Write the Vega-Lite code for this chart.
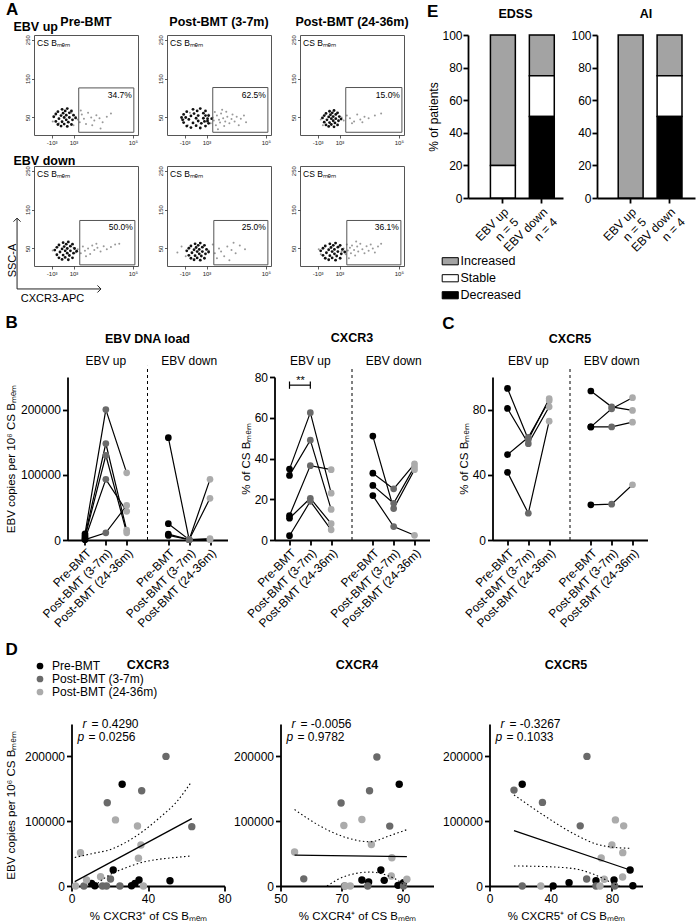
{
"$schema":"https://vega.github.io/schema/vega-lite/v6.json",
"background":"white",
"padding":{"left":5,"top":0,"right":2,"bottom":2},
"config":{
 "font":"Liberation Sans",
 "view":{"stroke":null},
 "text":{"font":"Liberation Sans","color":"#000"},
 "axis":{"domainColor":"#000","domainWidth":1.8,"tickColor":"#000","tickWidth":1.8,"tickSize":5,"labelColor":"#000","labelFontSize":12,"titleFontSize":11.5,"titleFontWeight":"normal","titleColor":"#000","grid":false,"labelPadding":2,"titlePadding":6,"labelOverlap":false},
 "axisX":{"labelFlush":false},
 "title":{"fontSize":12.5,"fontWeight":"bold","color":"#000"},
 "legend":{"labelColor":"#000"}
},
"datasets":{
 "fd":[
  {"p":1,"x":19,"y":52},{"p":1,"x":21,"y":40},{"p":1,"x":21,"y":59},{"p":1,"x":23,"y":32},{"p":1,"x":23,"y":65},{"p":1,"x":24,"y":47},{"p":1,"x":26,"y":55},{"p":1,"x":26,"y":28},{"p":1,"x":27,"y":71},{"p":1,"x":27,"y":39},{"p":1,"x":28,"y":61},{"p":1,"x":29,"y":50},{"p":1,"x":29,"y":33},{"p":1,"x":30,"y":67},{"p":1,"x":31,"y":44},{"p":1,"x":31,"y":56},{"p":1,"x":32,"y":27},{"p":1,"x":32,"y":73},{"p":1,"x":33,"y":38},{"p":1,"x":34,"y":62},{"p":1,"x":34,"y":50},{"p":1,"x":36,"y":32},{"p":1,"x":36,"y":67},{"p":1,"x":37,"y":44},{"p":1,"x":38,"y":56},{"p":1,"x":40,"y":49},
  {"p":2,"x":14,"y":50},{"p":2,"x":16,"y":37},{"p":2,"x":16,"y":58},{"p":2,"x":19,"y":28},{"p":2,"x":19,"y":65},{"p":2,"x":21,"y":45},{"p":2,"x":23,"y":54},{"p":2,"x":23,"y":24},{"p":2,"x":25,"y":71},{"p":2,"x":25,"y":36},{"p":2,"x":26,"y":60},{"p":2,"x":28,"y":48},{"p":2,"x":28,"y":29},{"p":2,"x":29,"y":67},{"p":2,"x":30,"y":41},{"p":2,"x":30,"y":55},{"p":2,"x":32,"y":23},{"p":2,"x":32,"y":73},{"p":2,"x":33,"y":35},{"p":2,"x":35,"y":61},{"p":2,"x":35,"y":48},{"p":2,"x":37,"y":28},{"p":2,"x":37,"y":67},{"p":2,"x":39,"y":41},{"p":2,"x":40,"y":55},{"p":2,"x":43,"y":47},{"p":2,"x":36,"y":40},{"p":2,"x":37,"y":55},{"p":2,"x":39,"y":47},{"p":2,"x":40,"y":35},{"p":2,"x":18,"y":50},{"p":2,"x":15,"y":44},
  {"p":3,"x":21.6,"y":49},{"p":3,"x":23.3,"y":38},{"p":3,"x":23.3,"y":55},{"p":3,"x":25,"y":31},{"p":3,"x":25,"y":60.5},{"p":3,"x":25.9,"y":44},{"p":3,"x":27.6,"y":51.5},{"p":3,"x":27.6,"y":27},{"p":3,"x":28.4,"y":66},{"p":3,"x":28.4,"y":37},{"p":3,"x":29.3,"y":57},{"p":3,"x":30.1,"y":47},{"p":3,"x":30.1,"y":32},{"p":3,"x":31,"y":62},{"p":3,"x":31.9,"y":41.6},{"p":3,"x":31.9,"y":52.4},{"p":3,"x":32.7,"y":26},{"p":3,"x":32.7,"y":68},{"p":3,"x":33.6,"y":36},{"p":3,"x":34.4,"y":58},{"p":3,"x":34.4,"y":47},{"p":3,"x":36.1,"y":31},{"p":3,"x":36.1,"y":62},{"p":3,"x":37,"y":41.6},{"p":3,"x":37.8,"y":52.4},{"p":3,"x":39.5,"y":46},
  {"p":4,"x":20,"y":46},{"p":4,"x":22,"y":34},{"p":4,"x":22,"y":53},{"p":4,"x":24,"y":26},{"p":4,"x":24,"y":59},{"p":4,"x":25,"y":41},{"p":4,"x":27,"y":49},{"p":4,"x":27,"y":22},{"p":4,"x":28,"y":65},{"p":4,"x":28,"y":33},{"p":4,"x":29,"y":55},{"p":4,"x":30,"y":44},{"p":4,"x":30,"y":27},{"p":4,"x":31,"y":61},{"p":4,"x":32,"y":38},{"p":4,"x":32,"y":50},{"p":4,"x":33,"y":21},{"p":4,"x":33,"y":67},{"p":4,"x":34,"y":32},{"p":4,"x":35,"y":56},{"p":4,"x":35,"y":44},{"p":4,"x":37,"y":26},{"p":4,"x":37,"y":61},{"p":4,"x":38,"y":38},{"p":4,"x":39,"y":50},{"p":4,"x":41,"y":43},
  {"p":5,"x":19,"y":44},{"p":5,"x":21,"y":32.5},{"p":5,"x":21,"y":50.6},{"p":5,"x":23,"y":25},{"p":5,"x":23,"y":56.3},{"p":5,"x":24,"y":39},{"p":5,"x":26,"y":46.8},{"p":5,"x":26,"y":21},{"p":5,"x":27,"y":62},{"p":5,"x":27,"y":31.5},{"p":5,"x":28,"y":52.5},{"p":5,"x":29,"y":42},{"p":5,"x":29,"y":25.8},{"p":5,"x":30,"y":58.2},{"p":5,"x":31,"y":36.3},{"p":5,"x":31,"y":47.7},{"p":5,"x":32,"y":20},{"p":5,"x":32,"y":64},{"p":5,"x":33,"y":30.6},{"p":5,"x":34,"y":53.4},{"p":5,"x":34,"y":42},{"p":5,"x":36,"y":25},{"p":5,"x":36,"y":58.2},{"p":5,"x":37,"y":36.3},{"p":5,"x":38,"y":47.7},{"p":5,"x":40,"y":41},
  {"p":6,"x":19.9,"y":44},{"p":6,"x":22.1,"y":32.5},{"p":6,"x":22.1,"y":50.6},{"p":6,"x":24.3,"y":25},{"p":6,"x":24.3,"y":56.3},{"p":6,"x":25.4,"y":39},{"p":6,"x":27.6,"y":46.8},{"p":6,"x":27.6,"y":21},{"p":6,"x":28.7,"y":62},{"p":6,"x":28.7,"y":31.5},{"p":6,"x":29.8,"y":52.5},{"p":6,"x":30.9,"y":42},{"p":6,"x":30.9,"y":25.8},{"p":6,"x":32,"y":58.2},{"p":6,"x":33.1,"y":36.3},{"p":6,"x":33.1,"y":47.7},{"p":6,"x":34.2,"y":20},{"p":6,"x":34.2,"y":64},{"p":6,"x":35.3,"y":30.6},{"p":6,"x":36.4,"y":53.4},{"p":6,"x":36.4,"y":42},{"p":6,"x":38.6,"y":25},{"p":6,"x":38.6,"y":58.2},{"p":6,"x":39.7,"y":36.3},{"p":6,"x":40.8,"y":47.7},{"p":6,"x":43,"y":41}
 ],
 "fs":[
  {"p":1,"x":18,"y":40},{"p":1,"x":21,"y":58},{"p":1,"x":24,"y":35},{"p":1,"x":36,"y":62},{"p":1,"x":38,"y":30},{"p":1,"x":40,"y":52},{"p":1,"x":42,"y":45},{"p":1,"x":44,"y":38},{"p":1,"x":46,"y":58},{"p":1,"x":48,"y":47},{"p":1,"x":50,"y":33},{"p":1,"x":52,"y":62},{"p":1,"x":55,"y":50},{"p":1,"x":58,"y":42},{"p":1,"x":60,"y":56},{"p":1,"x":63,"y":48},{"p":1,"x":66,"y":38},{"p":1,"x":70,"y":52},{"p":1,"x":74,"y":60},{"p":1,"x":64,"y":22},{"p":1,"x":45,"y":68},{"p":1,"x":56,"y":30},
  {"p":2,"x":16,"y":45},{"p":2,"x":20,"y":30},{"p":2,"x":22,"y":62},{"p":2,"x":38,"y":40},{"p":2,"x":40,"y":58},{"p":2,"x":42,"y":35},{"p":2,"x":44,"y":50},{"p":2,"x":45,"y":42},{"p":2,"x":46,"y":64},{"p":2,"x":47,"y":30},{"p":2,"x":48,"y":55},{"p":2,"x":50,"y":44},{"p":2,"x":51,"y":37},{"p":2,"x":52,"y":60},{"p":2,"x":54,"y":48},{"p":2,"x":55,"y":28},{"p":2,"x":56,"y":40},{"p":2,"x":57,"y":65},{"p":2,"x":58,"y":52},{"p":2,"x":60,"y":35},{"p":2,"x":62,"y":46},{"p":2,"x":63,"y":58},{"p":2,"x":65,"y":40},{"p":2,"x":67,"y":52},{"p":2,"x":69,"y":30},{"p":2,"x":71,"y":47},{"p":2,"x":74,"y":55},{"p":2,"x":76,"y":38},{"p":2,"x":49,"y":20},{"p":2,"x":53,"y":70},
  {"p":3,"x":20,"y":45},{"p":3,"x":22,"y":30},{"p":3,"x":40,"y":50},{"p":3,"x":42,"y":42},{"p":3,"x":45,"y":55},{"p":3,"x":48,"y":48},{"p":3,"x":52,"y":40},{"p":3,"x":55,"y":58},{"p":3,"x":58,"y":45},{"p":3,"x":62,"y":52},{"p":3,"x":66,"y":48},{"p":3,"x":72,"y":55},{"p":3,"x":78,"y":60},{"p":3,"x":50,"y":35},{"p":3,"x":60,"y":38},
  {"p":4,"x":18,"y":45},{"p":4,"x":38,"y":52},{"p":4,"x":40,"y":40},{"p":4,"x":42,"y":48},{"p":4,"x":45,"y":38},{"p":4,"x":47,"y":55},{"p":4,"x":49,"y":44},{"p":4,"x":52,"y":50},{"p":4,"x":54,"y":36},{"p":4,"x":56,"y":58},{"p":4,"x":58,"y":46},{"p":4,"x":61,"y":52},{"p":4,"x":64,"y":42},{"p":4,"x":67,"y":56},{"p":4,"x":70,"y":48},{"p":4,"x":74,"y":54},{"p":4,"x":78,"y":60},{"p":4,"x":82,"y":62},{"p":4,"x":50,"y":30},{"p":4,"x":60,"y":62},
  {"p":5,"x":10,"y":40},{"p":5,"x":14,"y":55},{"p":5,"x":18,"y":30},{"p":5,"x":40,"y":45},{"p":5,"x":44,"y":60},{"p":5,"x":46,"y":38},{"p":5,"x":50,"y":50},{"p":5,"x":52,"y":42},{"p":5,"x":55,"y":30},{"p":5,"x":58,"y":55},{"p":5,"x":62,"y":46},{"p":5,"x":66,"y":38},{"p":5,"x":70,"y":58},{"p":5,"x":75,"y":48},{"p":5,"x":48,"y":25},{"p":5,"x":60,"y":20},{"p":5,"x":64,"y":65},
  {"p":6,"x":18,"y":48},{"p":6,"x":20,"y":35},{"p":6,"x":38,"y":55},{"p":6,"x":40,"y":42},{"p":6,"x":42,"y":50},{"p":6,"x":44,"y":35},{"p":6,"x":45,"y":60},{"p":6,"x":46,"y":45},{"p":6,"x":48,"y":52},{"p":6,"x":49,"y":38},{"p":6,"x":50,"y":58},{"p":6,"x":52,"y":46},{"p":6,"x":53,"y":32},{"p":6,"x":55,"y":55},{"p":6,"x":56,"y":42},{"p":6,"x":58,"y":62},{"p":6,"x":60,"y":48},{"p":6,"x":62,"y":38},{"p":6,"x":64,"y":56},{"p":6,"x":66,"y":44},{"p":6,"x":68,"y":60},{"p":6,"x":70,"y":50},{"p":6,"x":72,"y":40},{"p":6,"x":75,"y":55},{"p":6,"x":78,"y":62},{"p":6,"x":54,"y":68},{"p":6,"x":47,"y":25}
 ],
 "gates":[
  {"p":1,"x1":43,"x2":96,"y1":12,"y2":126,"pct":"34.7%"},
  {"p":2,"x1":44,"x2":97,"y1":12,"y2":127,"pct":"62.5%"},
  {"p":3,"x1":44,"x2":98,"y1":12,"y2":127,"pct":"15.0%"},
  {"p":4,"x1":44,"x2":97,"y1":8,"y2":122,"pct":"50.0%"},
  {"p":5,"x1":45,"x2":97,"y1":8,"y2":122,"pct":"25.0%"},
  {"p":6,"x1":45,"x2":97,"y1":8,"y2":122,"pct":"36.1%"}
 ],
 "bars":[
  {"sc":"EDSS","g":"up","st":"Increased","v":80},{"sc":"EDSS","g":"up","st":"Stable","v":20},
  {"sc":"EDSS","g":"down","st":"Increased","v":25},{"sc":"EDSS","g":"down","st":"Stable","v":25},{"sc":"EDSS","g":"down","st":"Decreased","v":50},
  {"sc":"AI","g":"up","st":"Increased","v":100},
  {"sc":"AI","g":"down","st":"Increased","v":25},{"sc":"AI","g":"down","st":"Stable","v":25},{"sc":"AI","g":"down","st":"Decreased","v":50}
 ],
 "traj":[
  {"m":"EBV","id":"u1","tp":"pre","xk":"u0","v":9500},{"m":"EBV","id":"u1","tp":"p1","xk":"u1","v":200000},{"m":"EBV","id":"u1","tp":"p2","xk":"u2","v":103000},
  {"m":"EBV","id":"u2","tp":"pre","xk":"u0","v":6500},{"m":"EBV","id":"u2","tp":"p1","xk":"u1","v":148000},{"m":"EBV","id":"u2","tp":"p2","xk":"u2","v":15000},
  {"m":"EBV","id":"u3","tp":"pre","xk":"u0","v":4000},{"m":"EBV","id":"u3","tp":"p1","xk":"u1","v":130000},{"m":"EBV","id":"u3","tp":"p2","xk":"u2","v":11000},
  {"m":"EBV","id":"u4","tp":"pre","xk":"u0","v":1500},{"m":"EBV","id":"u4","tp":"p1","xk":"u1","v":93000},{"m":"EBV","id":"u4","tp":"p2","xk":"u2","v":44000},
  {"m":"EBV","id":"u5","tp":"pre","xk":"u0","v":500},{"m":"EBV","id":"u5","tp":"p1","xk":"u1","v":11000},{"m":"EBV","id":"u5","tp":"p2","xk":"u2","v":53000},
  {"m":"EBV","id":"d1","tp":"pre","xk":"d0","v":157000},{"m":"EBV","id":"d1","tp":"p1","xk":"d1","v":500},{"m":"EBV","id":"d1","tp":"p2","xk":"d2","v":93000},
  {"m":"EBV","id":"d2","tp":"pre","xk":"d0","v":25000},{"m":"EBV","id":"d2","tp":"p1","xk":"d1","v":500},{"m":"EBV","id":"d2","tp":"p2","xk":"d2","v":64000},
  {"m":"EBV","id":"d3","tp":"pre","xk":"d0","v":9000},{"m":"EBV","id":"d3","tp":"p1","xk":"d1","v":500},{"m":"EBV","id":"d3","tp":"p2","xk":"d2","v":2000},
  {"m":"EBV","id":"d4","tp":"pre","xk":"d0","v":7000},{"m":"EBV","id":"d4","tp":"p1","xk":"d1","v":500},{"m":"EBV","id":"d4","tp":"p2","xk":"d2","v":500},
  {"m":"CXCR3","id":"u1","tp":"pre","xk":"u0","v":34.8},{"m":"CXCR3","id":"u1","tp":"p1","xk":"u1","v":62.5},{"m":"CXCR3","id":"u1","tp":"p2","xk":"u2","v":23},
  {"m":"CXCR3","id":"u2","tp":"pre","xk":"u0","v":31.7},{"m":"CXCR3","id":"u2","tp":"p1","xk":"u1","v":49},{"m":"CXCR3","id":"u2","tp":"p2","xk":"u2","v":15},
  {"m":"CXCR3","id":"u3","tp":"pre","xk":"u0","v":12},{"m":"CXCR3","id":"u3","tp":"p1","xk":"u1","v":36.5},{"m":"CXCR3","id":"u3","tp":"p2","xk":"u2","v":34.5},
  {"m":"CXCR3","id":"u4","tp":"pre","xk":"u0","v":10.7},{"m":"CXCR3","id":"u4","tp":"p1","xk":"u1","v":20.5},{"m":"CXCR3","id":"u4","tp":"p2","xk":"u2","v":8},
  {"m":"CXCR3","id":"u5","tp":"pre","xk":"u0","v":2.1},{"m":"CXCR3","id":"u5","tp":"p1","xk":"u1","v":19},{"m":"CXCR3","id":"u5","tp":"p2","xk":"u2","v":5},
  {"m":"CXCR3","id":"d1","tp":"pre","xk":"d0","v":51},{"m":"CXCR3","id":"d1","tp":"p1","xk":"d1","v":15.4},{"m":"CXCR3","id":"d1","tp":"p2","xk":"d2","v":34.5},
  {"m":"CXCR3","id":"d2","tp":"pre","xk":"d0","v":32.8},{"m":"CXCR3","id":"d2","tp":"p1","xk":"d1","v":25.1},{"m":"CXCR3","id":"d2","tp":"p2","xk":"d2","v":37.4},
  {"m":"CXCR3","id":"d3","tp":"pre","xk":"d0","v":26.8},{"m":"CXCR3","id":"d3","tp":"p1","xk":"d1","v":18},{"m":"CXCR3","id":"d3","tp":"p2","xk":"d2","v":36},
  {"m":"CXCR3","id":"d4","tp":"pre","xk":"d0","v":21.8},{"m":"CXCR3","id":"d4","tp":"p1","xk":"d1","v":6.6},{"m":"CXCR3","id":"d4","tp":"p2","xk":"d2","v":2.3},
  {"m":"CXCR5","id":"u1","tp":"pre","xk":"u0","v":93},{"m":"CXCR5","id":"u1","tp":"p1","xk":"u1","v":61.6},{"m":"CXCR5","id":"u1","tp":"p2","xk":"u2","v":86.7},
  {"m":"CXCR5","id":"u2","tp":"pre","xk":"u0","v":80.7},{"m":"CXCR5","id":"u2","tp":"p1","xk":"u1","v":59.1},{"m":"CXCR5","id":"u2","tp":"p2","xk":"u2","v":81.7},
  {"m":"CXCR5","id":"u3","tp":"pre","xk":"u0","v":52.4},{"m":"CXCR5","id":"u3","tp":"p1","xk":"u1","v":63},{"m":"CXCR5","id":"u3","tp":"p2","xk":"u2","v":85.5},
  {"m":"CXCR5","id":"u4","tp":"pre","xk":"u0","v":41.5},{"m":"CXCR5","id":"u4","tp":"p1","xk":"u1","v":16.4},{"m":"CXCR5","id":"u4","tp":"p2","xk":"u2","v":72.9},
  {"m":"CXCR5","id":"d1","tp":"pre","xk":"d0","v":91.4},{"m":"CXCR5","id":"d1","tp":"p1","xk":"d1","v":81.7},{"m":"CXCR5","id":"d1","tp":"p2","xk":"d2","v":79.5},
  {"m":"CXCR5","id":"d2","tp":"pre","xk":"d0","v":69.4},{"m":"CXCR5","id":"d2","tp":"p1","xk":"d1","v":80.5},{"m":"CXCR5","id":"d2","tp":"p2","xk":"d2","v":87.3},
  {"m":"CXCR5","id":"d3","tp":"pre","xk":"d0","v":69.4},{"m":"CXCR5","id":"d3","tp":"p1","xk":"d1","v":69.4},{"m":"CXCR5","id":"d3","tp":"p2","xk":"d2","v":72.3},
  {"m":"CXCR5","id":"d4","tp":"pre","xk":"d0","v":21.6},{"m":"CXCR5","id":"d4","tp":"p1","xk":"d1","v":22},{"m":"CXCR5","id":"d4","tp":"p2","xk":"d2","v":33.9}
 ],
 "sc":[
  {"mk":"CXCR3","tp":"Pre-BMT","x":26.5,"y":157000},{"mk":"CXCR3","tp":"Pre-BMT","x":21.8,"y":24700},{"mk":"CXCR3","tp":"Pre-BMT","x":51.5,"y":8200},{"mk":"CXCR3","tp":"Pre-BMT","x":35.3,"y":9300},{"mk":"CXCR3","tp":"Pre-BMT","x":33.2,"y":4000},{"mk":"CXCR3","tp":"Pre-BMT","x":31.4,"y":500},{"mk":"CXCR3","tp":"Pre-BMT","x":10.5,"y":4000},{"mk":"CXCR3","tp":"Pre-BMT","x":12.2,"y":500},
  {"mk":"CXCR3","tp":"Post-BMT (3-7m)","x":49.4,"y":200000},{"mk":"CXCR3","tp":"Post-BMT (3-7m)","x":36.7,"y":147000},{"mk":"CXCR3","tp":"Post-BMT (3-7m)","x":18.7,"y":128600},{"mk":"CXCR3","tp":"Post-BMT (3-7m)","x":62.9,"y":91600},{"mk":"CXCR3","tp":"Post-BMT (3-7m)","x":20.4,"y":10800},{"mk":"CXCR3","tp":"Post-BMT (3-7m)","x":6.5,"y":0},{"mk":"CXCR3","tp":"Post-BMT (3-7m)","x":16.2,"y":0},{"mk":"CXCR3","tp":"Post-BMT (3-7m)","x":18.3,"y":0},{"mk":"CXCR3","tp":"Post-BMT (3-7m)","x":25.3,"y":0},
  {"mk":"CXCR3","tp":"Post-BMT (24-36m)","x":23,"y":102000},{"mk":"CXCR3","tp":"Post-BMT (24-36m)","x":4.7,"y":51400},{"mk":"CXCR3","tp":"Post-BMT (24-36m)","x":36.3,"y":63300},{"mk":"CXCR3","tp":"Post-BMT (24-36m)","x":35,"y":42700},{"mk":"CXCR3","tp":"Post-BMT (24-36m)","x":34.5,"y":92600},{"mk":"CXCR3","tp":"Post-BMT (24-36m)","x":15.2,"y":14400},{"mk":"CXCR3","tp":"Post-BMT (24-36m)","x":7.9,"y":9300},{"mk":"CXCR3","tp":"Post-BMT (24-36m)","x":2.1,"y":0},{"mk":"CXCR3","tp":"Post-BMT (24-36m)","x":37.6,"y":0},
  {"mk":"CXCR4","tp":"Pre-BMT","x":88.8,"y":157000},{"mk":"CXCR4","tp":"Pre-BMT","x":82.8,"y":24600},{"mk":"CXCR4","tp":"Pre-BMT","x":83.9,"y":8700},{"mk":"CXCR4","tp":"Pre-BMT","x":76.6,"y":9200},{"mk":"CXCR4","tp":"Pre-BMT","x":78.8,"y":6200},{"mk":"CXCR4","tp":"Pre-BMT","x":88.4,"y":1000},{"mk":"CXCR4","tp":"Pre-BMT","x":90.2,"y":5100},
  {"mk":"CXCR4","tp":"Post-BMT (3-7m)","x":81.5,"y":199000},{"mk":"CXCR4","tp":"Post-BMT (3-7m)","x":79.1,"y":147000},{"mk":"CXCR4","tp":"Post-BMT (3-7m)","x":69.8,"y":128000},{"mk":"CXCR4","tp":"Post-BMT (3-7m)","x":85.7,"y":92400},{"mk":"CXCR4","tp":"Post-BMT (3-7m)","x":57.6,"y":11000},{"mk":"CXCR4","tp":"Post-BMT (3-7m)","x":70.9,"y":0},{"mk":"CXCR4","tp":"Post-BMT (3-7m)","x":78.5,"y":0},{"mk":"CXCR4","tp":"Post-BMT (3-7m)","x":90.2,"y":0},
  {"mk":"CXCR4","tp":"Post-BMT (24-36m)","x":76.6,"y":102700},{"mk":"CXCR4","tp":"Post-BMT (24-36m)","x":70.7,"y":93400},{"mk":"CXCR4","tp":"Post-BMT (24-36m)","x":79.7,"y":64000},{"mk":"CXCR4","tp":"Post-BMT (24-36m)","x":54.6,"y":52400},{"mk":"CXCR4","tp":"Post-BMT (24-36m)","x":86.4,"y":43600},{"mk":"CXCR4","tp":"Post-BMT (24-36m)","x":86.2,"y":15400},{"mk":"CXCR4","tp":"Post-BMT (24-36m)","x":91.3,"y":10300},{"mk":"CXCR4","tp":"Post-BMT (24-36m)","x":71.2,"y":0},{"mk":"CXCR4","tp":"Post-BMT (24-36m)","x":72.8,"y":0},
  {"mk":"CXCR5","tp":"Pre-BMT","x":21.4,"y":157000},{"mk":"CXCR5","tp":"Pre-BMT","x":41.6,"y":0},{"mk":"CXCR5","tp":"Pre-BMT","x":52,"y":5000},{"mk":"CXCR5","tp":"Pre-BMT","x":69.6,"y":8000},{"mk":"CXCR5","tp":"Pre-BMT","x":81.4,"y":9300},{"mk":"CXCR5","tp":"Pre-BMT","x":91.9,"y":24700},{"mk":"CXCR5","tp":"Pre-BMT","x":93.7,"y":500},
  {"mk":"CXCR5","tp":"Post-BMT (3-7m)","x":16,"y":148000},{"mk":"CXCR5","tp":"Post-BMT (3-7m)","x":34.6,"y":129000},{"mk":"CXCR5","tp":"Post-BMT (3-7m)","x":63.7,"y":200000},{"mk":"CXCR5","tp":"Post-BMT (3-7m)","x":59.3,"y":92800},{"mk":"CXCR5","tp":"Post-BMT (3-7m)","x":21.4,"y":0},{"mk":"CXCR5","tp":"Post-BMT (3-7m)","x":63.5,"y":10800},{"mk":"CXCR5","tp":"Post-BMT (3-7m)","x":69.6,"y":0},{"mk":"CXCR5","tp":"Post-BMT (3-7m)","x":81.8,"y":0},
  {"mk":"CXCR5","tp":"Post-BMT (24-36m)","x":82.3,"y":102000},{"mk":"CXCR5","tp":"Post-BMT (24-36m)","x":87.7,"y":92800},{"mk":"CXCR5","tp":"Post-BMT (24-36m)","x":80,"y":63400},{"mk":"CXCR5","tp":"Post-BMT (24-36m)","x":87.1,"y":51500},{"mk":"CXCR5","tp":"Post-BMT (24-36m)","x":73,"y":43300},{"mk":"CXCR5","tp":"Post-BMT (24-36m)","x":75,"y":10300},{"mk":"CXCR5","tp":"Post-BMT (24-36m)","x":87,"y":13900},{"mk":"CXCR5","tp":"Post-BMT (24-36m)","x":33.5,"y":0},{"mk":"CXCR5","tp":"Post-BMT (24-36m)","x":72.2,"y":0}
 ],
 "fit":[
  {"mk":"CXCR3","ln":"fit","x":1.7,"y":6700},{"mk":"CXCR3","ln":"fit","x":62.9,"y":104000},
  {"mk":"CXCR3","ln":"hi","x":1.7,"y":44000},{"mk":"CXCR3","ln":"hi","x":11.4,"y":50400},{"mk":"CXCR3","ln":"hi","x":20,"y":56000},{"mk":"CXCR3","ln":"hi","x":28.8,"y":68000},{"mk":"CXCR3","ln":"hi","x":37.6,"y":85000},{"mk":"CXCR3","ln":"hi","x":46.3,"y":106000},{"mk":"CXCR3","ln":"hi","x":55,"y":130000},{"mk":"CXCR3","ln":"hi","x":62.4,"y":159500},
  {"mk":"CXCR3","ln":"lo","x":12,"y":0},{"mk":"CXCR3","ln":"lo","x":18.3,"y":14400},{"mk":"CXCR3","ln":"lo","x":28.8,"y":28500},{"mk":"CXCR3","ln":"lo","x":37.6,"y":37000},{"mk":"CXCR3","ln":"lo","x":46.3,"y":41500},{"mk":"CXCR3","ln":"lo","x":55,"y":44200},{"mk":"CXCR3","ln":"lo","x":62.4,"y":46300},
  {"mk":"CXCR4","ln":"fit","x":54.6,"y":47700},{"mk":"CXCR4","ln":"fit","x":91.3,"y":45200},
  {"mk":"CXCR4","ln":"hi","x":54.6,"y":118000},{"mk":"CXCR4","ln":"hi","x":63,"y":92400},{"mk":"CXCR4","ln":"hi","x":71.7,"y":74400},{"mk":"CXCR4","ln":"hi","x":79.3,"y":68300},{"mk":"CXCR4","ln":"hi","x":85.9,"y":78000},{"mk":"CXCR4","ln":"hi","x":91.5,"y":87300},
  {"mk":"CXCR4","ln":"lo","x":65.2,"y":0},{"mk":"CXCR4","ln":"lo","x":71.7,"y":16000},{"mk":"CXCR4","ln":"lo","x":79.3,"y":21500},{"mk":"CXCR4","ln":"lo","x":84.8,"y":16400},{"mk":"CXCR4","ln":"lo","x":89.1,"y":6200},{"mk":"CXCR4","ln":"lo","x":90.8,"y":0},
  {"mk":"CXCR5","ln":"fit","x":16,"y":85600},{"mk":"CXCR5","ln":"fit","x":91.9,"y":24700},
  {"mk":"CXCR5","ln":"hi","x":16,"y":140700},{"mk":"CXCR5","ln":"hi","x":36.8,"y":107000},{"mk":"CXCR5","ln":"hi","x":56.5,"y":78800},{"mk":"CXCR5","ln":"hi","x":69.6,"y":65000},{"mk":"CXCR5","ln":"hi","x":80.5,"y":59800},{"mk":"CXCR5","ln":"hi","x":92.6,"y":58200},
  {"mk":"CXCR5","ln":"lo","x":16,"y":30900},{"mk":"CXCR5","ln":"lo","x":36.8,"y":29900},{"mk":"CXCR5","ln":"lo","x":56.5,"y":26300},{"mk":"CXCR5","ln":"lo","x":65.2,"y":20600},{"mk":"CXCR5","ln":"lo","x":74,"y":11900},{"mk":"CXCR5","ln":"lo","x":80.5,"y":4100},{"mk":"CXCR5","ln":"lo","x":85,"y":0}
 ]
},
"columns":1,
"align":"none",
"spacing":10,
"resolve":{"scale":{"color":"independent","fill":"independent"},"legend":{"color":"independent","fill":"independent"}},
"concat":[
 {"spacing":16,"hconcat":[
  {"title":{"text":"A","anchor":"start","frame":"bounds","fontSize":17,"offset":-3,"dx":0},
   "spacing":7,
   "vconcat":[
    {"spacing":29,"bounds":"flush","title":{"text":"EBV up","anchor":"start","frame":"bounds","fontSize":12.5,"offset":-18,"dx":7.5},"hconcat":[
     {"width":104,"height":100,"view":{"stroke":"#555","strokeWidth":1},"title":{"text":"Pre-BMT","offset":6},
      "layer":[
       {"data":{"name":"fs"},"transform":[{"filter":"datum.p==1"}],"mark":{"type":"circle","size":4,"color":"#999","opacity":1},
        "encoding":{"x":{"field":"x","type":"quantitative","scale":{"domain":[0,100],"nice":false,"zero":false},"axis":{"title":null,"values":[17,29,38,68,95],"labelExpr":"datum.value==17?'-10³':datum.value==29?'0':datum.value==38?'10³':datum.value==68?'10⁴':'10⁵'","labelFontSize":6,"labelOverlap":false,"labelSeparation":-20,"labelBound":false,"labelFlush":false,"labelPadding":1,"domain":false,"tickSize":3,"tickWidth":0.8,"tickColor":"#333","labelColor":"#222"}},
                    "y":{"field":"y","type":"quantitative","scale":{"domain":[5,262],"nice":false,"zero":false},"axis":{"title":"SSC-A","titleOpacity":0,"titleFontSize":11,"titlePadding":7,"titleY":94,"titleAlign":"center","values":[50,100,150,200,250],"labelAngle":-90,"labelAlign":"center","labelBaseline":"bottom","labelFontSize":6,"labelOverlap":false,"labelSeparation":-20,"labelBound":false,"labelPadding":1,"domain":false,"tickSize":2.5,"tickWidth":0.8,"tickColor":"#333","labelColor":"#222"}}}},
       {"data":{"name":"fd"},"transform":[{"filter":"datum.p==1"}],"mark":{"type":"circle","size":8,"color":"#111","opacity":1},"encoding":{"x":{"field":"x","type":"quantitative"},"y":{"field":"y","type":"quantitative"}}},
       {"data":{"name":"gates"},"transform":[{"filter":"datum.p==1"}],"mark":{"type":"rect","fillOpacity":0,"stroke":"#555","strokeWidth":1},"encoding":{"x":{"field":"x1","type":"quantitative"},"x2":{"field":"x2"},"y":{"field":"y1","type":"quantitative"},"y2":{"field":"y2"}}},
       {"data":{"name":"gates"},"transform":[{"filter":"datum.p==1"}],"mark":{"type":"text","align":"right","baseline":"top","dx":-2,"dy":3,"fontSize":8.5},"encoding":{"x":{"field":"x2","type":"quantitative"},"y":{"field":"y2","type":"quantitative"},"text":{"field":"pct"}}},
       {"data":{"values":[{}]},"mark":{"type":"text","text":"CS Bₘₑₘ","align":"left","baseline":"top","fontSize":8.5,"dx":3,"dy":4},"encoding":{"x":{"datum":0,"type":"quantitative"},"y":{"datum":262,"type":"quantitative"}}}
      ]},
     {"width":104,"height":100,"view":{"stroke":"#555","strokeWidth":1},"title":{"text":"Post-BMT (3-7m)","offset":6},
      "layer":[
       {"data":{"name":"fs"},"transform":[{"filter":"datum.p==2"}],"mark":{"type":"circle","size":4,"color":"#999","opacity":1},
        "encoding":{"x":{"field":"x","type":"quantitative","scale":{"domain":[0,100],"nice":false,"zero":false},"axis":{"title":null,"values":[17,29,38,68,95],"labelExpr":"datum.value==17?'-10³':datum.value==29?'0':datum.value==38?'10³':datum.value==68?'10⁴':'10⁵'","labelFontSize":6,"labelOverlap":false,"labelSeparation":-20,"labelBound":false,"labelFlush":false,"labelPadding":1,"domain":false,"tickSize":3,"tickWidth":0.8,"tickColor":"#333","labelColor":"#222"}},
                    "y":{"field":"y","type":"quantitative","scale":{"domain":[5,262],"nice":false,"zero":false},"axis":{"title":null,"values":[50,100,150,200,250],"labelAngle":-90,"labelAlign":"center","labelBaseline":"bottom","labelFontSize":6,"labelOverlap":false,"labelSeparation":-20,"labelBound":false,"labelPadding":1,"domain":false,"tickSize":2.5,"tickWidth":0.8,"tickColor":"#333","labelColor":"#222"}}}},
       {"data":{"name":"fd"},"transform":[{"filter":"datum.p==2"}],"mark":{"type":"circle","size":8,"color":"#111","opacity":1},"encoding":{"x":{"field":"x","type":"quantitative"},"y":{"field":"y","type":"quantitative"}}},
       {"data":{"name":"gates"},"transform":[{"filter":"datum.p==2"}],"mark":{"type":"rect","fillOpacity":0,"stroke":"#555","strokeWidth":1},"encoding":{"x":{"field":"x1","type":"quantitative"},"x2":{"field":"x2"},"y":{"field":"y1","type":"quantitative"},"y2":{"field":"y2"}}},
       {"data":{"name":"gates"},"transform":[{"filter":"datum.p==2"}],"mark":{"type":"text","align":"right","baseline":"top","dx":-2,"dy":3,"fontSize":8.5},"encoding":{"x":{"field":"x2","type":"quantitative"},"y":{"field":"y2","type":"quantitative"},"text":{"field":"pct"}}},
       {"data":{"values":[{}]},"mark":{"type":"text","text":"CS Bₘₑₘ","align":"left","baseline":"top","fontSize":8.5,"dx":3,"dy":4},"encoding":{"x":{"datum":0,"type":"quantitative"},"y":{"datum":262,"type":"quantitative"}}}
      ]},
     {"width":104,"height":100,"view":{"stroke":"#555","strokeWidth":1},"title":{"text":"Post-BMT (24-36m)","offset":6},
      "layer":[
       {"data":{"name":"fs"},"transform":[{"filter":"datum.p==3"}],"mark":{"type":"circle","size":4,"color":"#999","opacity":1},
        "encoding":{"x":{"field":"x","type":"quantitative","scale":{"domain":[0,100],"nice":false,"zero":false},"axis":{"title":null,"values":[17,29,38,68,95],"labelExpr":"datum.value==17?'-10³':datum.value==29?'0':datum.value==38?'10³':datum.value==68?'10⁴':'10⁵'","labelFontSize":6,"labelOverlap":false,"labelSeparation":-20,"labelBound":false,"labelFlush":false,"labelPadding":1,"domain":false,"tickSize":3,"tickWidth":0.8,"tickColor":"#333","labelColor":"#222"}},
                    "y":{"field":"y","type":"quantitative","scale":{"domain":[5,262],"nice":false,"zero":false},"axis":{"title":null,"values":[50,100,150,200,250],"labelAngle":-90,"labelAlign":"center","labelBaseline":"bottom","labelFontSize":6,"labelOverlap":false,"labelSeparation":-20,"labelBound":false,"labelPadding":1,"domain":false,"tickSize":2.5,"tickWidth":0.8,"tickColor":"#333","labelColor":"#222"}}}},
       {"data":{"name":"fd"},"transform":[{"filter":"datum.p==3"}],"mark":{"type":"circle","size":8,"color":"#111","opacity":1},"encoding":{"x":{"field":"x","type":"quantitative"},"y":{"field":"y","type":"quantitative"}}},
       {"data":{"name":"gates"},"transform":[{"filter":"datum.p==3"}],"mark":{"type":"rect","fillOpacity":0,"stroke":"#555","strokeWidth":1},"encoding":{"x":{"field":"x1","type":"quantitative"},"x2":{"field":"x2"},"y":{"field":"y1","type":"quantitative"},"y2":{"field":"y2"}}},
       {"data":{"name":"gates"},"transform":[{"filter":"datum.p==3"}],"mark":{"type":"text","align":"right","baseline":"top","dx":-2,"dy":3,"fontSize":8.5},"encoding":{"x":{"field":"x2","type":"quantitative"},"y":{"field":"y2","type":"quantitative"},"text":{"field":"pct"}}},
       {"data":{"values":[{}]},"mark":{"type":"text","text":"CS Bₘₑₘ","align":"left","baseline":"top","fontSize":8.5,"dx":3,"dy":4},"encoding":{"x":{"datum":0,"type":"quantitative"},"y":{"datum":262,"type":"quantitative"}}}
      ]}
    ]},
    {"spacing":29,"bounds":"flush","title":{"text":"EBV down","anchor":"start","frame":"bounds","fontSize":12.5,"offset":-2,"dx":7.5},"hconcat":[
     {"width":104,"height":100,"view":{"stroke":"#555","strokeWidth":1},
      "layer":[
       {"data":{"name":"fs"},"transform":[{"filter":"datum.p==4"}],"mark":{"type":"circle","size":4,"color":"#999","opacity":1},
        "encoding":{"x":{"field":"x","type":"quantitative","scale":{"domain":[0,100],"nice":false,"zero":false},"axis":{"title":"CXCR3-APC","titleFontSize":11,"titlePadding":16,"titleX":18,"titleAlign":"center","values":[17,29,38,68,95],"labelExpr":"datum.value==17?'-10³':datum.value==29?'0':datum.value==38?'10³':datum.value==68?'10⁴':'10⁵'","labelFontSize":6,"labelOverlap":false,"labelSeparation":-20,"labelBound":false,"labelFlush":false,"labelPadding":1,"domain":false,"tickSize":3,"tickWidth":0.8,"tickColor":"#333","labelColor":"#222"}},
                    "y":{"field":"y","type":"quantitative","scale":{"domain":[5,262],"nice":false,"zero":false},"axis":{"title":"SSC-A","titleFontSize":11,"titlePadding":7,"titleY":94,"titleAlign":"center","values":[50,100,150,200,250],"labelAngle":-90,"labelAlign":"center","labelBaseline":"bottom","labelFontSize":6,"labelOverlap":false,"labelSeparation":-20,"labelBound":false,"labelPadding":1,"domain":false,"tickSize":2.5,"tickWidth":0.8,"tickColor":"#333","labelColor":"#222"}}}},
       {"data":{"name":"fd"},"transform":[{"filter":"datum.p==4"}],"mark":{"type":"circle","size":8,"color":"#111","opacity":1},"encoding":{"x":{"field":"x","type":"quantitative"},"y":{"field":"y","type":"quantitative"}}},
       {"data":{"name":"gates"},"transform":[{"filter":"datum.p==4"}],"mark":{"type":"rect","fillOpacity":0,"stroke":"#555","strokeWidth":1},"encoding":{"x":{"field":"x1","type":"quantitative"},"x2":{"field":"x2"},"y":{"field":"y1","type":"quantitative"},"y2":{"field":"y2"}}},
       {"data":{"name":"gates"},"transform":[{"filter":"datum.p==4"}],"mark":{"type":"text","align":"right","baseline":"top","dx":-2,"dy":3,"fontSize":8.5},"encoding":{"x":{"field":"x2","type":"quantitative"},"y":{"field":"y2","type":"quantitative"},"text":{"field":"pct"}}},
       {"data":{"values":[{}]},"mark":{"type":"text","text":"CS Bₘₑₘ","align":"left","baseline":"top","fontSize":8.5,"dx":3,"dy":4},"encoding":{"x":{"datum":0,"type":"quantitative"},"y":{"datum":262,"type":"quantitative"}}},
       {"data":{"values":[{}]},"mark":{"type":"rule","color":"#222","strokeWidth":1},"encoding":{"x":{"datum":-16.3,"type":"quantitative"},"y":{"datum":-54,"type":"quantitative"},"y2":{"datum":128}}},
       {"data":{"values":[{}]},"mark":{"type":"rule","color":"#222","strokeWidth":1},"encoding":{"x":{"datum":-16.3,"type":"quantitative"},"x2":{"datum":64.4},"y":{"datum":-54,"type":"quantitative"}}},
       {"data":{"values":[{}]},"mark":{"type":"point","shape":"M-1,1L0,0L1,1","filled":false,"color":"#222","strokeWidth":1,"size":50,"opacity":1},"encoding":{"x":{"datum":-16.3,"type":"quantitative"},"y":{"datum":128,"type":"quantitative"}}},
       {"data":{"values":[{}]},"mark":{"type":"point","shape":"M-1,-1L0,0L-1,1","filled":false,"color":"#222","strokeWidth":1,"size":50,"opacity":1},"encoding":{"x":{"datum":64.4,"type":"quantitative"},"y":{"datum":-54,"type":"quantitative"}}}
      ]},
     {"width":104,"height":100,"view":{"stroke":"#555","strokeWidth":1},
      "layer":[
       {"data":{"name":"fs"},"transform":[{"filter":"datum.p==5"}],"mark":{"type":"circle","size":4,"color":"#999","opacity":1},
        "encoding":{"x":{"field":"x","type":"quantitative","scale":{"domain":[0,100],"nice":false,"zero":false},"axis":{"title":null,"values":[17,29,38,68,95],"labelExpr":"datum.value==17?'-10³':datum.value==29?'0':datum.value==38?'10³':datum.value==68?'10⁴':'10⁵'","labelFontSize":6,"labelOverlap":false,"labelSeparation":-20,"labelBound":false,"labelFlush":false,"labelPadding":1,"domain":false,"tickSize":3,"tickWidth":0.8,"tickColor":"#333","labelColor":"#222"}},
                    "y":{"field":"y","type":"quantitative","scale":{"domain":[5,262],"nice":false,"zero":false},"axis":{"title":null,"values":[50,100,150,200,250],"labelAngle":-90,"labelAlign":"center","labelBaseline":"bottom","labelFontSize":6,"labelOverlap":false,"labelSeparation":-20,"labelBound":false,"labelPadding":1,"domain":false,"tickSize":2.5,"tickWidth":0.8,"tickColor":"#333","labelColor":"#222"}}}},
       {"data":{"name":"fd"},"transform":[{"filter":"datum.p==5"}],"mark":{"type":"circle","size":8,"color":"#111","opacity":1},"encoding":{"x":{"field":"x","type":"quantitative"},"y":{"field":"y","type":"quantitative"}}},
       {"data":{"name":"gates"},"transform":[{"filter":"datum.p==5"}],"mark":{"type":"rect","fillOpacity":0,"stroke":"#555","strokeWidth":1},"encoding":{"x":{"field":"x1","type":"quantitative"},"x2":{"field":"x2"},"y":{"field":"y1","type":"quantitative"},"y2":{"field":"y2"}}},
       {"data":{"name":"gates"},"transform":[{"filter":"datum.p==5"}],"mark":{"type":"text","align":"right","baseline":"top","dx":-2,"dy":3,"fontSize":8.5},"encoding":{"x":{"field":"x2","type":"quantitative"},"y":{"field":"y2","type":"quantitative"},"text":{"field":"pct"}}},
       {"data":{"values":[{}]},"mark":{"type":"text","text":"CS Bₘₑₘ","align":"left","baseline":"top","fontSize":8.5,"dx":3,"dy":4},"encoding":{"x":{"datum":0,"type":"quantitative"},"y":{"datum":262,"type":"quantitative"}}}
      ]},
     {"width":104,"height":100,"view":{"stroke":"#555","strokeWidth":1},
      "layer":[
       {"data":{"name":"fs"},"transform":[{"filter":"datum.p==6"}],"mark":{"type":"circle","size":4,"color":"#999","opacity":1},
        "encoding":{"x":{"field":"x","type":"quantitative","scale":{"domain":[0,100],"nice":false,"zero":false},"axis":{"title":null,"values":[17,29,38,68,95],"labelExpr":"datum.value==17?'-10³':datum.value==29?'0':datum.value==38?'10³':datum.value==68?'10⁴':'10⁵'","labelFontSize":6,"labelOverlap":false,"labelSeparation":-20,"labelBound":false,"labelFlush":false,"labelPadding":1,"domain":false,"tickSize":3,"tickWidth":0.8,"tickColor":"#333","labelColor":"#222"}},
                    "y":{"field":"y","type":"quantitative","scale":{"domain":[5,262],"nice":false,"zero":false},"axis":{"title":null,"values":[50,100,150,200,250],"labelAngle":-90,"labelAlign":"center","labelBaseline":"bottom","labelFontSize":6,"labelOverlap":false,"labelSeparation":-20,"labelBound":false,"labelPadding":1,"domain":false,"tickSize":2.5,"tickWidth":0.8,"tickColor":"#333","labelColor":"#222"}}}},
       {"data":{"name":"fd"},"transform":[{"filter":"datum.p==6"}],"mark":{"type":"circle","size":8,"color":"#111","opacity":1},"encoding":{"x":{"field":"x","type":"quantitative"},"y":{"field":"y","type":"quantitative"}}},
       {"data":{"name":"gates"},"transform":[{"filter":"datum.p==6"}],"mark":{"type":"rect","fillOpacity":0,"stroke":"#555","strokeWidth":1},"encoding":{"x":{"field":"x1","type":"quantitative"},"x2":{"field":"x2"},"y":{"field":"y1","type":"quantitative"},"y2":{"field":"y2"}}},
       {"data":{"name":"gates"},"transform":[{"filter":"datum.p==6"}],"mark":{"type":"text","align":"right","baseline":"top","dx":-2,"dy":3,"fontSize":8.5},"encoding":{"x":{"field":"x2","type":"quantitative"},"y":{"field":"y2","type":"quantitative"},"text":{"field":"pct"}}},
       {"data":{"values":[{}]},"mark":{"type":"text","text":"CS Bₘₑₘ","align":"left","baseline":"top","fontSize":8.5,"dx":3,"dy":4},"encoding":{"x":{"datum":0,"type":"quantitative"},"y":{"datum":262,"type":"quantitative"}}}
      ]}
    ]}
   ]},
  {"title":{"text":"E","anchor":"start","frame":"bounds","fontSize":17,"offset":-13,"dx":-1},
   "spacing":34,"bounds":"flush",
   "resolve":{"scale":{"fill":"independent"},"legend":{"fill":"independent"}},
   "hconcat":[
    {"width":95,"height":163,"title":{"text":"EDSS","offset":9},
     "data":{"name":"bars"},
     "transform":[{"filter":"datum.sc=='EDSS'"},{"calculate":"indexof(['Decreased','Stable','Increased'],datum.st)","as":"o"}],
     "mark":{"type":"bar","stroke":"#000","strokeWidth":1.5},
     "encoding":{
      "x":{"field":"g","type":"nominal","scale":{"domain":["up","down"],"paddingInner":0.36,"paddingOuter":0.4,"align":0.72},"axis":{"title":null,"labelExpr":"datum.value=='up'?['EBV up','n = 5']:['EBV down','n = 4']","labelAngle":-45,"labelAlign":"right","labelBaseline":"top","labelFontSize":12,"labelPadding":3}},
      "y":{"field":"v","type":"quantitative","stack":"zero","scale":{"domain":[0,100],"nice":false},"axis":{"values":[0,20,40,60,80,100],"title":"% of patients","titleFontSize":12,"labelFontSize":12,"labelPadding":1,"titlePadding":1}},
      "fill":{"field":"st","type":"nominal","scale":{"domain":["Increased","Stable","Decreased"],"range":["#a3a3a3","#ffffff","#000000"]},"legend":{"orient":"none","legendX":-24,"legendY":220,"title":null,"padding":0,"symbolType":"M-1.8,-0.8H1.8V0.8H-1.8Z","symbolSize":80,"symbolStrokeColor":"#000","symbolStrokeWidth":1,"symbolOpacity":1,"labelFontSize":12.5,"labelOffset":4,"rowPadding":4}},
      "order":{"field":"o","type":"quantitative"}
     }},
    {"width":98,"height":163,"title":{"text":"AI","offset":9},
     "data":{"name":"bars"},
     "transform":[{"filter":"datum.sc=='AI'"},{"calculate":"indexof(['Decreased','Stable','Increased'],datum.st)","as":"o"}],
     "mark":{"type":"bar","stroke":"#000","strokeWidth":1.5},
     "encoding":{
      "x":{"field":"g","type":"nominal","scale":{"domain":["up","down"],"paddingInner":0.36,"paddingOuter":0.44,"align":0.62},"axis":{"title":null,"labelExpr":"datum.value=='up'?['EBV up','n = 5']:['EBV down','n = 4']","labelAngle":-45,"labelAlign":"right","labelBaseline":"top","labelFontSize":12,"labelPadding":3}},
      "y":{"field":"v","type":"quantitative","stack":"zero","scale":{"domain":[0,100],"nice":false},"axis":{"values":[0,20,40,60,80,100],"title":null,"labelFontSize":12,"labelPadding":1}},
      "fill":{"field":"st","type":"nominal","scale":{"domain":["Increased","Stable","Decreased"],"range":["#a3a3a3","#ffffff","#000000"]},"legend":null},
      "order":{"field":"o","type":"quantitative"}
     }}
   ]}
 ]},
 {"spacing":-33.5,"hconcat":[
  {"width":1,"height":1,"data":{"values":[{}]},"mark":{"type":"point","opacity":0},"encoding":{}},
  {"spacing":12,"hconcat":[
  {"title":{"text":"B","anchor":"start","frame":"bounds","fontSize":17,"offset":0},
   "spacing":47,"bounds":"flush",
   "hconcat":[
    {"width":160,"height":163,"title":{"text":"EBV DNA load","offset":10},
     "layer":[
      {"data":{"values":[{}]},"mark":{"type":"rule","strokeDash":[3,3],"strokeWidth":1,"color":"#000"},"encoding":{"x":{"datum":"gap","type":"ordinal","scale":{"type":"point","domain":["u0","u1","u2","gap","d0","d1","d2"],"padding":0.84},"axis":{"title":null,"values":["u0","u1","u2","d0","d1","d2"],"labelExpr":"indexof(['u0','d0'],datum.value)>=0?'Pre-BMT':indexof(['u1','d1'],datum.value)>=0?'Post-BMT (3-7m)':'Post-BMT (24-36m)'","labelAngle":-45,"labelAlign":"right","labelBaseline":"top","labelFontSize":12,"labelPadding":2}},"y":{"datum":0,"type":"quantitative","scale":{"domain":[0,250000],"nice":false},"axis":{"values":[0,50000,100000,150000,200000,250000],"format":"d","title":"EBV copies per 10⁶ CS Bₘₑₘ","titlePadding":4}},"y2":{"datum":267000}}},
      {"data":{"name":"traj"},"transform":[{"filter":"datum.m=='EBV'"}],"mark":{"type":"line","color":"#000","strokeWidth":1.2},"encoding":{"x":{"field":"xk","type":"ordinal"},"y":{"field":"v","type":"quantitative"},"detail":{"field":"id"}}},
      {"data":{"name":"traj"},"transform":[{"filter":"datum.m=='EBV'"}],"mark":{"type":"circle","size":45,"opacity":1},"encoding":{"x":{"field":"xk","type":"ordinal"},"y":{"field":"v","type":"quantitative"},"color":{"field":"tp","type":"nominal","scale":{"domain":["pre","p1","p2"],"range":["#000000","#6a6a6a","#ababab"]},"legend":null}}},
      {"data":{"values":[{}]},"mark":{"type":"text","text":"EBV up","fontSize":12,"baseline":"middle"},"encoding":{"x":{"datum":"u1","type":"ordinal"},"y":{"datum":274500,"type":"quantitative"}}},
      {"data":{"values":[{}]},"mark":{"type":"text","text":"EBV down","fontSize":12,"baseline":"middle"},"encoding":{"x":{"datum":"d1","type":"ordinal"},"y":{"datum":274500,"type":"quantitative"}}}
     ]},
    {"width":155,"height":163,"title":{"text":"CXCR3","offset":10},
     "layer":[
      {"data":{"values":[{}]},"mark":{"type":"rule","strokeDash":[3,3],"strokeWidth":1,"color":"#000"},"encoding":{"x":{"datum":"gap","type":"ordinal","scale":{"type":"point","domain":["u0","u1","u2","gap","d0","d1","d2"],"padding":0.72},"axis":{"title":null,"values":["u0","u1","u2","d0","d1","d2"],"labelExpr":"indexof(['u0','d0'],datum.value)>=0?'Pre-BMT':indexof(['u1','d1'],datum.value)>=0?'Post-BMT (3-7m)':'Post-BMT (24-36m)'","labelAngle":-45,"labelAlign":"right","labelBaseline":"top","labelFontSize":12,"labelPadding":2}},"y":{"datum":0,"type":"quantitative","scale":{"domain":[0,80],"nice":false},"axis":{"values":[0,20,40,60,80],"title":"% of CS Bₘₑₘ","titlePadding":3}},"y2":{"datum":85.4}}},
      {"data":{"name":"traj"},"transform":[{"filter":"datum.m=='CXCR3'"}],"mark":{"type":"line","color":"#000","strokeWidth":1.2},"encoding":{"x":{"field":"xk","type":"ordinal"},"y":{"field":"v","type":"quantitative"},"detail":{"field":"id"}}},
      {"data":{"name":"traj"},"transform":[{"filter":"datum.m=='CXCR3'"}],"mark":{"type":"circle","size":45,"opacity":1},"encoding":{"x":{"field":"xk","type":"ordinal"},"y":{"field":"v","type":"quantitative"},"color":{"field":"tp","type":"nominal","scale":{"domain":["pre","p1","p2"],"range":["#000000","#6a6a6a","#ababab"]},"legend":null}}},
      {"data":{"values":[{}]},"mark":{"type":"rule","strokeWidth":1.2,"color":"#000"},"encoding":{"x":{"datum":"u0","type":"ordinal"},"x2":{"datum":"u1"},"y":{"datum":76,"type":"quantitative"}}},
      {"data":{"values":[{}]},"mark":{"type":"rule","strokeWidth":1.2,"color":"#000"},"encoding":{"x":{"datum":"u0","type":"ordinal"},"y":{"datum":74.2,"type":"quantitative"},"y2":{"datum":77.8}}},
      {"data":{"values":[{}]},"mark":{"type":"rule","strokeWidth":1.2,"color":"#000"},"encoding":{"x":{"datum":"u1","type":"ordinal"},"y":{"datum":74.2,"type":"quantitative"},"y2":{"datum":77.8}}},
      {"data":{"values":[{}]},"mark":{"type":"text","text":"**","fontSize":11,"baseline":"bottom","align":"center","dx":11,"dy":1},"encoding":{"x":{"datum":"u0","type":"ordinal"},"y":{"datum":76,"type":"quantitative"}}},
      {"data":{"values":[{}]},"mark":{"type":"text","text":"EBV up","fontSize":12,"baseline":"middle"},"encoding":{"x":{"datum":"u1","type":"ordinal"},"y":{"datum":87.9,"type":"quantitative"}}},
      {"data":{"values":[{}]},"mark":{"type":"text","text":"EBV down","fontSize":12,"baseline":"middle"},"encoding":{"x":{"datum":"d1","type":"ordinal"},"y":{"datum":87.9,"type":"quantitative"}}}
     ]}
   ]},
  {"title":{"text":"C","anchor":"start","frame":"bounds","fontSize":17,"offset":0,"dx":-16},
   "hconcat":[
    {"width":155,"height":163,"title":{"text":"CXCR5","offset":10},
     "layer":[
      {"data":{"values":[{}]},"mark":{"type":"rule","strokeDash":[3,3],"strokeWidth":1,"color":"#000"},"encoding":{"x":{"datum":"gap","type":"ordinal","scale":{"type":"point","domain":["u0","u1","u2","gap","d0","d1","d2"],"padding":0.72},"axis":{"title":null,"values":["u0","u1","u2","d0","d1","d2"],"labelExpr":"indexof(['u0','d0'],datum.value)>=0?'Pre-BMT':indexof(['u1','d1'],datum.value)>=0?'Post-BMT (3-7m)':'Post-BMT (24-36m)'","labelAngle":-45,"labelAlign":"right","labelBaseline":"top","labelFontSize":12,"labelPadding":2}},"y":{"datum":0,"type":"quantitative","scale":{"domain":[0,100],"nice":false},"axis":{"values":[0,20,40,60,80,100],"title":"% of CS Bₘₑₘ","titlePadding":3}},"y2":{"datum":106}}},
      {"data":{"name":"traj"},"transform":[{"filter":"datum.m=='CXCR5'"}],"mark":{"type":"line","color":"#000","strokeWidth":1.2},"encoding":{"x":{"field":"xk","type":"ordinal"},"y":{"field":"v","type":"quantitative"},"detail":{"field":"id"}}},
      {"data":{"name":"traj"},"transform":[{"filter":"datum.m=='CXCR5'"}],"mark":{"type":"circle","size":45,"opacity":1},"encoding":{"x":{"field":"xk","type":"ordinal"},"y":{"field":"v","type":"quantitative"},"color":{"field":"tp","type":"nominal","scale":{"domain":["pre","p1","p2"],"range":["#000000","#6a6a6a","#ababab"]},"legend":null}}},
      {"data":{"values":[{}]},"mark":{"type":"text","text":"EBV up","fontSize":12,"baseline":"middle"},"encoding":{"x":{"datum":"u1","type":"ordinal"},"y":{"datum":109.8,"type":"quantitative"}}},
      {"data":{"values":[{}]},"mark":{"type":"text","text":"EBV down","fontSize":12,"baseline":"middle"},"encoding":{"x":{"datum":"d1","type":"ordinal"},"y":{"datum":109.8,"type":"quantitative"}}}
     ]}
   ]}
  ]}
 ]},
 {"spacing":-33.5,"hconcat":[
  {"width":1,"height":1,"data":{"values":[{}]},"mark":{"type":"point","opacity":0},"encoding":{}},
  {"title":{"text":"D","anchor":"start","frame":"bounds","fontSize":17,"offset":0},
  "spacing":56,"bounds":"flush",
  "hconcat":[
   {"width":153,"height":162,"title":{"text":"CXCR3","offset":47},
    "layer":[
     {"data":{"name":"sc"},"transform":[{"filter":"datum.mk=='CXCR3'"}],"mark":{"type":"circle","size":55,"opacity":1},"encoding":{"x":{"field":"x","type":"quantitative","scale":{"domain":[0,80],"nice":false},"axis":{"values":[0,20,40,60,80],"title":"% CXCR3⁺ of CS Bₘₑₘ"}},"y":{"field":"y","type":"quantitative","scale":{"domain":[0,250000],"nice":false},"axis":{"values":[0,50000,100000,150000,200000,250000],"format":"d","title":"EBV copies per 10⁶ CS Bₘₑₘ","titlePadding":8}},"color":{"field":"tp","type":"nominal","scale":{"domain":["Pre-BMT","Post-BMT (3-7m)","Post-BMT (24-36m)"],"range":["#000000","#6a6a6a","#ababab"]},"legend":{"orient":"none","legendX":0,"legendY":-64,"title":null,"padding":0,"symbolType":"circle","symbolSize":45,"symbolOpacity":1,"labelFontSize":12,"labelOffset":6,"rowPadding":1}}}},
     {"data":{"name":"fit"},"transform":[{"filter":"datum.mk=='CXCR3' && datum.ln!='fit'"}],"mark":{"type":"line","color":"#000","strokeWidth":1.1,"strokeDash":[1.5,2.5],"interpolate":"monotone","clip":true},"encoding":{"x":{"field":"x","type":"quantitative"},"y":{"field":"y","type":"quantitative"},"detail":{"field":"ln"}}},
     {"data":{"name":"fit"},"transform":[{"filter":"datum.mk=='CXCR3' && datum.ln=='fit'"}],"mark":{"type":"line","color":"#000","strokeWidth":1.3},"encoding":{"x":{"field":"x","type":"quantitative"},"y":{"field":"y","type":"quantitative"}}},
     {"data":{"values":[{}]},"mark":{"type":"text","text":"r","fontStyle":"italic","fontSize":12,"align":"left","baseline":"middle","dx":11},"encoding":{"x":{"datum":0,"type":"quantitative"},"y":{"datum":250000,"type":"quantitative"}}},
     {"data":{"values":[{}]},"mark":{"type":"text","text":"= 0.4290","fontSize":12,"align":"left","baseline":"middle","dx":20},"encoding":{"x":{"datum":0,"type":"quantitative"},"y":{"datum":250000,"type":"quantitative"}}},
     {"data":{"values":[{}]},"mark":{"type":"text","text":"p","fontStyle":"italic","fontSize":12,"align":"left","baseline":"middle","dx":6,"dy":13},"encoding":{"x":{"datum":0,"type":"quantitative"},"y":{"datum":250000,"type":"quantitative"}}},
     {"data":{"values":[{}]},"mark":{"type":"text","text":"= 0.0256","fontSize":12,"align":"left","baseline":"middle","dx":17,"dy":13},"encoding":{"x":{"datum":0,"type":"quantitative"},"y":{"datum":250000,"type":"quantitative"}}}
    ]},
   {"width":153,"height":162,"title":{"text":"CXCR4","offset":47},
    "layer":[
     {"data":{"name":"sc"},"transform":[{"filter":"datum.mk=='CXCR4'"}],"mark":{"type":"circle","size":55,"opacity":1},"encoding":{"x":{"field":"x","type":"quantitative","scale":{"domain":[50,100],"nice":false,"zero":false},"axis":{"values":[50,60,70,80,90,100],"title":"% CXCR4⁺ of CS Bₘₑₘ"}},"y":{"field":"y","type":"quantitative","scale":{"domain":[0,250000],"nice":false},"axis":{"values":[0,50000,100000,150000,200000,250000],"format":"d","title":null}},"color":{"field":"tp","type":"nominal","scale":{"domain":["Pre-BMT","Post-BMT (3-7m)","Post-BMT (24-36m)"],"range":["#000000","#6a6a6a","#ababab"]},"legend":{"orient":"none","legendX":0,"legendY":-64,"title":null,"padding":0,"symbolType":"circle","symbolSize":45,"symbolOpacity":1,"labelFontSize":12,"labelOffset":6,"rowPadding":1}}}},
     {"data":{"name":"fit"},"transform":[{"filter":"datum.mk=='CXCR4' && datum.ln!='fit'"}],"mark":{"type":"line","color":"#000","strokeWidth":1.1,"strokeDash":[1.5,2.5],"interpolate":"monotone","clip":true},"encoding":{"x":{"field":"x","type":"quantitative"},"y":{"field":"y","type":"quantitative"},"detail":{"field":"ln"}}},
     {"data":{"name":"fit"},"transform":[{"filter":"datum.mk=='CXCR4' && datum.ln=='fit'"}],"mark":{"type":"line","color":"#000","strokeWidth":1.3},"encoding":{"x":{"field":"x","type":"quantitative"},"y":{"field":"y","type":"quantitative"}}},
     {"data":{"values":[{}]},"mark":{"type":"text","text":"r","fontStyle":"italic","fontSize":12,"align":"left","baseline":"middle","dx":11},"encoding":{"x":{"datum":50,"type":"quantitative"},"y":{"datum":250000,"type":"quantitative"}}},
     {"data":{"values":[{}]},"mark":{"type":"text","text":"= -0.0056","fontSize":12,"align":"left","baseline":"middle","dx":20},"encoding":{"x":{"datum":50,"type":"quantitative"},"y":{"datum":250000,"type":"quantitative"}}},
     {"data":{"values":[{}]},"mark":{"type":"text","text":"p","fontStyle":"italic","fontSize":12,"align":"left","baseline":"middle","dx":6,"dy":13},"encoding":{"x":{"datum":50,"type":"quantitative"},"y":{"datum":250000,"type":"quantitative"}}},
     {"data":{"values":[{}]},"mark":{"type":"text","text":"= 0.9782","fontSize":12,"align":"left","baseline":"middle","dx":17,"dy":13},"encoding":{"x":{"datum":50,"type":"quantitative"},"y":{"datum":250000,"type":"quantitative"}}}
    ]},
   {"width":153,"height":162,"title":{"text":"CXCR5","offset":47},
    "layer":[
     {"data":{"name":"sc"},"transform":[{"filter":"datum.mk=='CXCR5'"}],"mark":{"type":"circle","size":55,"opacity":1},"encoding":{"x":{"field":"x","type":"quantitative","scale":{"domain":[0,100],"nice":false},"axis":{"values":[0,20,40,60,80,100],"title":"% CXCR5⁺ of CS Bₘₑₘ"}},"y":{"field":"y","type":"quantitative","scale":{"domain":[0,250000],"nice":false},"axis":{"values":[0,50000,100000,150000,200000,250000],"format":"d","title":null}},"color":{"field":"tp","type":"nominal","scale":{"domain":["Pre-BMT","Post-BMT (3-7m)","Post-BMT (24-36m)"],"range":["#000000","#6a6a6a","#ababab"]},"legend":{"orient":"none","legendX":0,"legendY":-64,"title":null,"padding":0,"symbolType":"circle","symbolSize":45,"symbolOpacity":1,"labelFontSize":12,"labelOffset":6,"rowPadding":1}}}},
     {"data":{"name":"fit"},"transform":[{"filter":"datum.mk=='CXCR5' && datum.ln!='fit'"}],"mark":{"type":"line","color":"#000","strokeWidth":1.1,"strokeDash":[1.5,2.5],"interpolate":"monotone","clip":true},"encoding":{"x":{"field":"x","type":"quantitative"},"y":{"field":"y","type":"quantitative"},"detail":{"field":"ln"}}},
     {"data":{"name":"fit"},"transform":[{"filter":"datum.mk=='CXCR5' && datum.ln=='fit'"}],"mark":{"type":"line","color":"#000","strokeWidth":1.3},"encoding":{"x":{"field":"x","type":"quantitative"},"y":{"field":"y","type":"quantitative"}}},
     {"data":{"values":[{}]},"mark":{"type":"text","text":"r","fontStyle":"italic","fontSize":12,"align":"left","baseline":"middle","dx":11},"encoding":{"x":{"datum":0,"type":"quantitative"},"y":{"datum":250000,"type":"quantitative"}}},
     {"data":{"values":[{}]},"mark":{"type":"text","text":"= -0.3267","fontSize":12,"align":"left","baseline":"middle","dx":20},"encoding":{"x":{"datum":0,"type":"quantitative"},"y":{"datum":250000,"type":"quantitative"}}},
     {"data":{"values":[{}]},"mark":{"type":"text","text":"p","fontStyle":"italic","fontSize":12,"align":"left","baseline":"middle","dx":6,"dy":13},"encoding":{"x":{"datum":0,"type":"quantitative"},"y":{"datum":250000,"type":"quantitative"}}},
     {"data":{"values":[{}]},"mark":{"type":"text","text":"= 0.1033","fontSize":12,"align":"left","baseline":"middle","dx":17,"dy":13},"encoding":{"x":{"datum":0,"type":"quantitative"},"y":{"datum":250000,"type":"quantitative"}}}
    ]}
  ]}
 ]}
]
}
